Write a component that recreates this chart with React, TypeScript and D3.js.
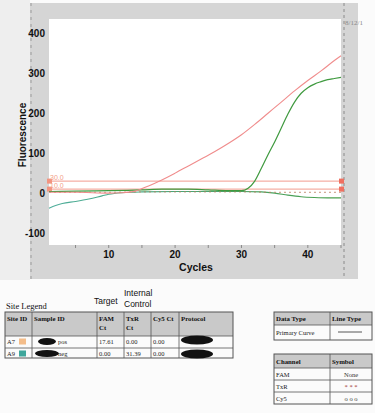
import React from "react";
import * as d3 from "d3";

const xTicks = [10, 20, 30, 40];
const xMinorTicks = [5, 15, 25, 35, 45];
const yTicks = [-100, 0, 100, 200, 300, 400];

const posCycles = [1, 5, 10, 12, 14, 16, 18, 20, 22, 24, 26, 28, 30, 32, 34, 36, 38, 40, 42, 44, 45];
const posFam = [2, 2, 0, 1, 5, 18, 33, 50, 68, 86, 104, 124, 146, 172, 200, 228, 256, 282, 306, 332, 344];

const sigCycles = [1, 5, 10, 15, 18, 22, 25, 28, 30, 31, 32, 33, 34, 35, 36, 37, 38, 39, 40, 41, 42, 43, 44, 45];
const sigTxr = [4, 5, 6, 8, 10, 10, 8, 6, 6, 12, 30, 62, 96, 128, 163, 198, 228, 250, 264, 273, 279, 284, 287, 290];

const baseCycles = [1, 2, 3, 5, 7, 9, 10, 12, 15, 20, 25, 30, 33, 35, 37, 39, 41, 43, 45];
const baseFam = [-38, -31, -26, -21, -15, -7, -3, 1, 3, 4, 4, 4, 3, 0, -5, -9, -11, -12, -12];

const dotCycles = [1, 10, 15, 20, 25, 30, 35, 40, 45];
const dotTxr = [2, 2, 3, 3, 3, 3, 2, 2, 2];

const thresholds = [30, 10];

const mainHeaders = ["Site ID", "Sample ID", "FAM\nCt", "TxR\nCt", "Cy5 Ct", "Protocol"];
const siteIds = ["A7", "A9"];
const sampleIds = ["pos", "neg"];
const famCt = ["17.61", "0.00"];
const txrCt = ["0.00", "31.39"];
const cy5Ct = ["0.00", "0.00"];
const siteColors = ["#f4bd8a", "#3fa79c"];

const channels = ["FAM", "TxR", "Cy5"];
const symbols = ["None", "* * *", "o o o"];

export default function App() {
  const x = d3.scaleLinear().domain([1, 45]).range([49, 341]);
  const y = d3.scaleLinear().domain([-130, 436]).range([245, 19]);
  const mk = (cs: number[], vs: number[]) =>
    d3.line<number>().x((_, i) => x(cs[i])).y((v) => y(v)).curve(d3.curveMonotoneX)(vs) || "";

  const serif = "'Liberation Serif', 'DejaVu Serif', serif";
  const sans = "'Liberation Sans', Arial, sans-serif";

  const colX = [5, 32, 97, 124, 151, 179, 233];
  const rowY = [312, 336, 348, 358];

  return (
    <svg width={375} height={413} style={{ position: "absolute", left: 0, top: 0 }}>
      <defs>
        <linearGradient id="baseGrad" x1="0" x2="1" y1="0" y2="0">
          <stop offset="0%" stopColor="#4fae9c" />
          <stop offset="40%" stopColor="#4aa67a" />
          <stop offset="100%" stopColor="#4a9e4a" />
        </linearGradient>
      </defs>
      <rect x={0} y={0} width={375} height={413} fill="#fbfbfb" />
      <rect x={0} y={0} width={30} height={280} fill="#eeeeee" />
      <rect x={30} y={3} width={328} height={276} fill="#d5d5d5" />
      <line x1={31} y1={3} x2={31} y2={279} stroke="#9a9a9a" strokeDasharray="3 4" />
      <line x1={344} y1={3} x2={344} y2={279} stroke="#8a8a8a" strokeDasharray="3 3" />
      <rect x={49} y={19} width={292} height={226} fill="#ffffff" />
      <text x={345} y={25} fontSize={7} fontFamily={serif} fill="#888">8/12/1</text>

      {yTicks.map((t) => (
        <text key={t} x={45} y={y(t) + 3.5} fontSize={10} fontWeight="bold" fontFamily={sans} textAnchor="end" fill="#111">
          {t}
        </text>
      ))}
      {xTicks.map((t) => (
        <text key={t} x={x(t)} y={258} fontSize={10} fontWeight="bold" fontFamily={sans} textAnchor="middle" fill="#111">
          {t}
        </text>
      ))}
      {xMinorTicks.concat(xTicks).map((t) => (
        <line key={"m" + t} x1={x(t)} x2={x(t)} y1={245} y2={248} stroke="#777" strokeWidth={0.8} />
      ))}
      <text x={196} y={271} fontSize={10.5} fontWeight="bold" fontFamily={sans} textAnchor="middle" fill="#111">
        Cycles
      </text>
      <text transform="translate(26,135) rotate(-90)" fontSize={10} fontWeight="bold" fontFamily={sans} textAnchor="middle" fill="#111">
        Fluorescence
      </text>

      {thresholds.map((t) => (
        <g key={t}>
          <line x1={49} x2={341} y1={y(t)} y2={y(t)} stroke="#f29a8e" strokeWidth={1} />
          <rect x={47} y={y(t) - 2.5} width={5} height={5} fill="#f39480" />
          <rect x={339} y={y(t) - 2.5} width={5} height={5} fill="#f07060" />
          <text x={50} y={y(t) - 1} fontSize={7} fontFamily={sans} fill="#f3a088">
            {t.toFixed(1)}
          </text>
        </g>
      ))}

      <path d={mk(baseCycles, baseFam)} fill="none" stroke="url(#baseGrad)" strokeWidth={1.1} />
      <path d={mk(dotCycles, dotTxr)} fill="none" stroke="#b87a5a" strokeWidth={1} strokeDasharray="2 3" opacity={0.8} />
      <path d={mk(sigCycles, sigTxr)} fill="none" stroke="#3f9a3f" strokeWidth={1.2} />
      <path d={mk(posCycles, posFam)} fill="none" stroke="#f08c8c" strokeWidth={1.1} />

      <text x={6} y={309} fontSize={8.5} fontFamily={serif} fill="#111">Site Legend</text>
      <text x={94} y={304} fontSize={8.5} fontFamily={sans} fill="#111">Target</text>
      <text x={124} y={296} fontSize={8.5} fontFamily={sans} fill="#111">Internal</text>
      <text x={124} y={307} fontSize={8.5} fontFamily={sans} fill="#111">Control</text>

      <rect x={colX[0]} y={rowY[0]} width={colX[6] - colX[0]} height={rowY[1] - rowY[0]} fill="#c9c9c9" />
      <rect x={colX[0]} y={rowY[0]} width={colX[6] - colX[0]} height={rowY[3] - rowY[0]} fill="none" stroke="#555" strokeWidth={1} />
      {rowY.slice(1, 3).map((ry) => (
        <line key={ry} x1={colX[0]} x2={colX[6]} y1={ry} y2={ry} stroke="#555" strokeWidth={0.8} />
      ))}
      {colX.slice(1, 6).map((cx) => (
        <line key={cx} x1={cx} x2={cx} y1={rowY[0]} y2={rowY[3]} stroke="#555" strokeWidth={0.8} />
      ))}
      {mainHeaders.map((h, i) => (
        <text key={h} x={colX[i] + 2} y={rowY[0] + 9} fontSize={6.8} fontWeight="bold" fontFamily={serif} fill="#111">
          {h.split("\n").map((l, j) => (
            <tspan key={j} x={colX[i] + 2} dy={j === 0 ? 0 : 9}>{l}</tspan>
          ))}
        </text>
      ))}
      {siteIds.map((s, i) => {
        const ty = rowY[i + 1] + 8;
        return (
          <g key={s}>
            <text x={colX[0] + 2} y={ty} fontSize={6.5} fontFamily={serif} fill="#222">{s}</text>
            <rect x={colX[0] + 14} y={rowY[i + 1] + 2.5} width={7} height={6} fill={siteColors[i]} />
            <ellipse cx={colX[1] + 15} cy={rowY[i + 1] + 5.5} rx={i === 0 ? 9 : 12} ry={3.5} fill="#111" />
            <text x={colX[1] + 26} y={ty} fontSize={6.5} fontFamily={serif} fill="#222">{sampleIds[i]}</text>
            <text x={colX[2] + 2} y={ty} fontSize={6.5} fontFamily={serif} fill="#222">{famCt[i]}</text>
            <text x={colX[3] + 2} y={ty} fontSize={6.5} fontFamily={serif} fill="#222">{txrCt[i]}</text>
            <text x={colX[4] + 2} y={ty} fontSize={6.5} fontFamily={serif} fill="#222">{cy5Ct[i]}</text>
            <ellipse cx={colX[5] + 18} cy={rowY[i + 1] + (i === 0 ? 4 : 6)} rx={16} ry={4.5} fill="#111" />
          </g>
        );
      })}

      <rect x={274} y={312} width={98} height={13} fill="#c9c9c9" />
      <rect x={274} y={312} width={98} height={28} fill="none" stroke="#555" strokeWidth={1} />
      <line x1={274} x2={372} y1={325} y2={325} stroke="#555" strokeWidth={0.8} />
      <line x1={330} x2={330} y1={312} y2={340} stroke="#555" strokeWidth={0.8} />
      <text x={276} y={321} fontSize={6.8} fontWeight="bold" fontFamily={serif} fill="#111">Data Type</text>
      <text x={332} y={321} fontSize={6.8} fontWeight="bold" fontFamily={serif} fill="#111">Line Type</text>
      <text x={276} y={335} fontSize={6.5} fontFamily={serif} fill="#222">Primary Curve</text>
      <line x1={338} x2={362} y1={332} y2={332} stroke="#444" strokeWidth={0.9} />

      <rect x={274} y={354} width={98} height={14} fill="#c9c9c9" />
      <rect x={274} y={354} width={98} height={50} fill="none" stroke="#555" strokeWidth={1} />
      {[368, 380, 392].map((ry) => (
        <line key={ry} x1={274} x2={372} y1={ry} y2={ry} stroke="#555" strokeWidth={0.8} />
      ))}
      <line x1={330} x2={330} y1={354} y2={404} stroke="#555" strokeWidth={0.8} />
      <text x={276} y={364} fontSize={6.8} fontWeight="bold" fontFamily={serif} fill="#111">Channel</text>
      <text x={332} y={364} fontSize={6.8} fontWeight="bold" fontFamily={serif} fill="#111">Symbol</text>
      {channels.map((c, i) => (
        <g key={c}>
          <text x={276} y={377 + i * 12} fontSize={6.5} fontFamily={serif} fill="#222">{c}</text>
          <text x={351} y={377 + i * 12} fontSize={6.5} fontFamily={serif} textAnchor="middle" fill={i === 1 ? "#a03030" : "#333"}>
            {symbols[i]}
          </text>
        </g>
      ))}
    </svg>
  );
}
